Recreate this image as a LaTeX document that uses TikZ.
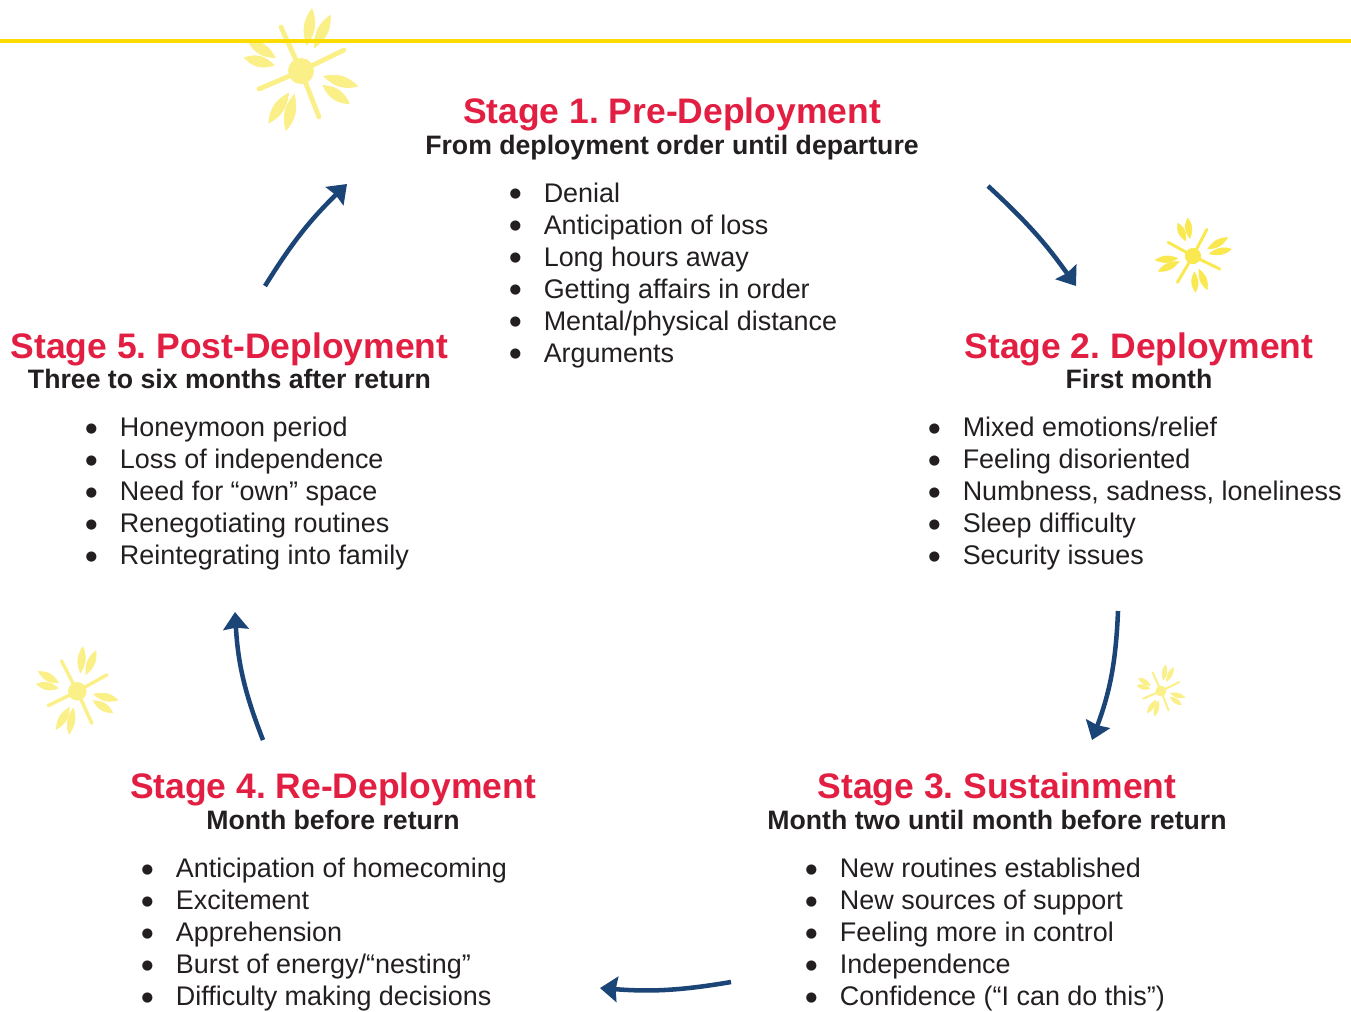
\documentclass[tikz,border=0pt]{standalone}
\usepackage{fontspec}
\setmainfont{Liberation Sans}
\newfontfamily\bulletfont{DejaVu Sans}
\usetikzlibrary{arrows.meta}
\definecolor{stagered}{HTML}{E21F42}
\definecolor{ink}{HTML}{231F20}
\definecolor{navy}{HTML}{1B4477}
\definecolor{rule}{HTML}{FADC00}
\definecolor{palesun}{HTML}{FBEF87}
\definecolor{brightsun}{HTML}{F9E850}
\tikzset{
  x=0.75pt,y=0.75pt,
  stagetitle/.style={anchor=base,inner sep=0,text=stagered,font=\fontsize{26.6}{30}\bfseries\selectfont},
  stagesub/.style={anchor=base,inner sep=0,text=ink,font=\fontsize{20}{24}\bfseries\selectfont},
  stagelist/.style={anchor=north west,inner sep=0,text=ink,align=left,font=\fontsize{20.2}{24}\selectfont},
  cyclearrow/.style={draw=navy,line width=3.4pt,-{Stealth[length=13pt,width=19pt,inset=1.2pt]}},
}
\frenchspacing
\newcommand{\itm}[1]{\strut\makebox[25.5pt][l]{\hspace*{-0.2pt}\raisebox{3.5pt}[0pt][0pt]{\bulletfont\fontsize{10}{10}\selectfont ●}}#1}
\newcommand{\petal}[4]{%
  \pgfmathsetmacro{\pL}{veclen(#3-#1,#4-#2)}%
  \pgfmathsetmacro{\pA}{atan2(-(#4-#2),#3-#1)}%
  \fill[shift={(#1,-#2)},rotate=\pA,draw=sun,line width=0.5pt,line join=round]
    (0,0) .. controls (0.2*\pL,3) and (0.5*\pL,10) .. (\pL,0)
    .. controls (0.5*\pL,-10) and (0.2*\pL,-3) .. (0,0) -- cycle;}
\newcommand{\flower}[5]{% x, y(down), scale, rotation (clockwise), colour
  \begin{scope}[shift={(#1,-#2)},scale=#3,rotate=-#4,fill=#5,draw=#5]
    \colorlet{sun}{#5}
    \draw[line width={3.6pt*#3},line cap=round] (-20,44) -- (0,0) -- (43,21);
    \draw[line width={3.6pt*#3},line cap=round] (18,-46) -- (0,0) -- (-42,-18);
    \fill (0,0) circle (13);
    \petal{5.7}{-25.7}{11}{-62.3}
    \petal{13.3}{-23}{29.3}{-55.7}
    \petal{22.7}{5.3}{56.7}{15.3}
    \petal{21.7}{14.3}{48.3}{32.7}
    \petal{-12.3}{22}{-32.3}{52}
    \petal{-6.7}{23.3}{-15}{59.3}
    \petal{-25.7}{-13.3}{-53.3}{-30.7}
    \petal{-26.7}{-5.7}{-56.7}{-13.3}
  \end{scope}}
\begin{document}
\begin{tikzpicture}
\useasboundingbox (0,0) rectangle (1351,-1011);
\flower{301}{71}{1}{0}{palesun}
\flower{1193}{256}{0.62}{52}{brightsun}
\flower{1161}{691}{0.42}{0}{palesun}
\flower{77.3}{691.3}{0.71}{-3}{palesun}
\coordinate (ruleL) at (0,-41);
\coordinate (ruleR) at (1351,-41);
\draw[rule,line width=2.3pt] (ruleL) -- (ruleR);

\node[stagetitle] (t1) at (672,-123) {Stage 1. Pre-Deployment};
\node[stagesub] (s1) at (672,-154) {From deployment order until departure};
\node[stagelist] (l1) at (509.5,-179.6) {\itm{Denial}\\\itm{Anticipation of loss}\\\itm{Long hours away}\\\itm{Getting affairs in order}\\\itm{Mental/physical distance}\\\itm{Arguments}};

\node[stagetitle] (t2) at (1139,-358) {Stage 2. Deployment};
\node[stagesub] (s2) at (1139,-388) {First month};
\node[stagelist] (l2) at (928.5,-414) {\itm{Mixed emotions/relief}\\\itm{Feeling disoriented}\\\itm{Numbness, sadness, loneliness}\\\itm{Sleep difficulty}\\\itm{Security issues}};

\node[stagetitle] (t3) at (997,-798) {Stage 3. Sustainment};
\node[stagesub] (s3) at (997,-829) {Month two until month before return};
\node[stagelist] (l3) at (805.7,-855) {\itm{New routines established}\\\itm{New sources of support}\\\itm{Feeling more in control}\\\itm{Independence}\\\itm{Confidence (“I can do this”)}};

\node[stagetitle] (t4) at (333,-798) {Stage 4. Re-Deployment};
\node[stagesub] (s4) at (333,-829) {Month before return};
\node[stagelist] (l4) at (141.7,-855) {\itm{Anticipation of homecoming}\\\itm{Excitement}\\\itm{Apprehension}\\\itm{Burst of energy/“nesting”}\\\itm{Difficulty making decisions}};

\node[stagetitle] (t5) at (229.5,-358) {Stage 5. Post-Deployment};
\node[stagesub] (s5) at (229.5,-388) {Three to six months after return};
\node[stagelist] (l5) at (85.7,-414) {\itm{Honeymoon period}\\\itm{Loss of independence}\\\itm{Need for “own” space}\\\itm{Renegotiating routines}\\\itm{Reintegrating into family}};

\coordinate (a1s) at (988,-186);  \coordinate (a1e) at (1076,-286);
\coordinate (a2s) at (1118,-611); \coordinate (a2e) at (1092,-740);
\coordinate (a3s) at (731,-982);  \coordinate (a3e) at (600,-988);
\coordinate (a4s) at (263,-740);  \coordinate (a4e) at (235,-612);
\coordinate (a5s) at (265,-286);  \coordinate (a5e) at (347,-184);
\draw[cyclearrow] (a1s) to[bend left=6] (a1e);
\draw[cyclearrow] (a2s) to[bend left=9] (a2e);
\draw[cyclearrow] (a3s) to[bend left=7] (a3e);
\draw[cyclearrow] (a4s) to[bend left=9] (a4e);
\draw[cyclearrow] (a5s) to[bend left=7] (a5e);
\end{tikzpicture}
\end{document}
